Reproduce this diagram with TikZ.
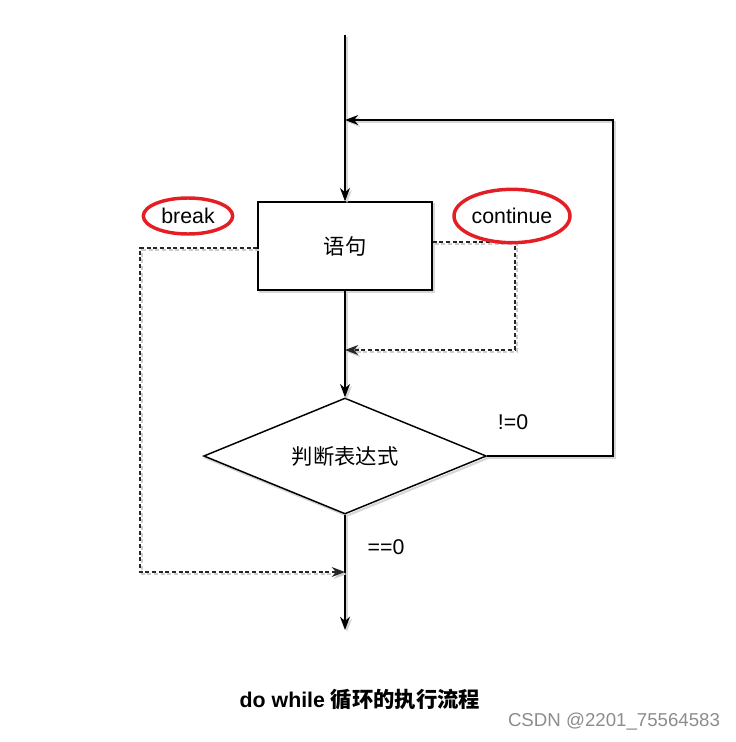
\documentclass[tikz,border=0pt]{standalone}
\usepackage{fontspec}
\setmainfont{Liberation Sans}
\newfontfamily\cjk{Noto Sans CJK SC}
\usetikzlibrary{shapes.geometric,arrows.meta,positioning,calc}

\tikzset{
  flow/.style={draw=black, line width=1.1pt,
    preaction={draw=black!16, line width=1.6pt, transform canvas={shift={(1.5pt,-1.5pt)}}}},
  jump/.style={draw=black!85, line width=0.9pt, dash pattern=on 3pt off 2pt,
    preaction={draw=black!20, line width=0.9pt, dash pattern=on 3pt off 2pt, transform canvas={shift={(1.5pt,-1.5pt)}}}},
  redring/.style={ellipse, draw={rgb,255:red,228;green,30;blue,36}, line width=2.6pt, inner sep=0pt},
}

\begin{document}
\begin{tikzpicture}[x=0.75pt, y=-0.75pt, >={Stealth[length=10pt,width=7.5pt]},
    font=\fontsize{16}{19}\selectfont]
    \useasboundingbox (0,0) rectangle (735,742);

    % main blocks
    \node[flow, fill=white, minimum width=130.5pt, minimum height=66pt] (stmt) at (345,246)
        {\cjk 语句};
    \node[flow, fill=white, diamond, aspect=2.4, minimum width=212pt, minimum height=87pt, inner sep=0pt] (cond) at (345,456)
        {\cjk 判断表达式};

    % free ends
    \coordinate (top) at (345,35);
    \coordinate (back) at (345,120);
    \coordinate (cin) at (345,350);
    \coordinate (bin) at (345,572);
    \coordinate (out) at (345,630);

    % flow
    \draw[flow, ->] (top) -- (stmt.north);
    \draw[flow, ->] (stmt.south) -- (cond.north);
    \draw[flow, ->] (cond.east) -- ++(126,0) |- (back);
    \draw[flow, ->] (cond.south) -- (out);

    % continue / break
    \draw[jump, ->] ($(stmt.east)+(0,-4)$) -| ($(cin)+(170,0)$) -- (cin);
    \draw[jump, ->] ($(stmt.west)+(0,2)$) -| ($(bin)+(-205,0)$) -- (bin);

    % labels
    \node (ne) at (513,422) {!=0};
    \node (eq) at (386,547) {==0};
    \node[redring, minimum width=67pt, minimum height=27pt] (brk) at (188,216) {break};
    \node[redring, minimum width=87pt, minimum height=40pt] (cnt) at (512,216) {continue};

    % caption
    \node[font=\fontsize{16}{19}\selectfont\bfseries] (title) at (360,700) {do while {\cjk 循环的执行流程}};
    \node[font=\fontsize{14}{17}\selectfont, text=black!45] (mark) at (614,722) {CSDN @2201\_75564583};
\end{tikzpicture}
\end{document}
